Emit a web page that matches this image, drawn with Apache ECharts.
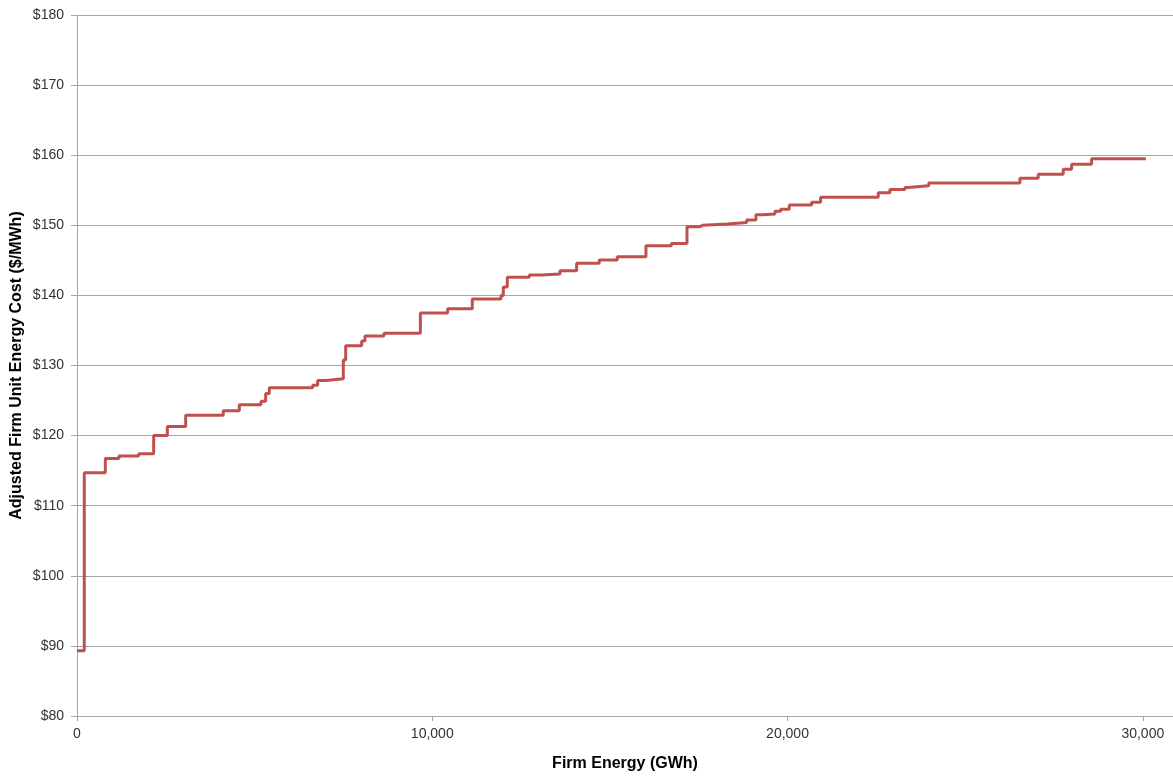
<!DOCTYPE html>
<html>
<head>
<meta charset="utf-8">
<script src="https://cdn.jsdelivr.net/npm/echarts@6/dist/echarts.min.js"></script>
<style>
html,body{margin:0;padding:0;background:#fff;}
#chart{width:1173px;height:777px;}
</style>
</head>
<body>
<div id="chart"></div>
<script>
// Start of each cost level (GWh) and the level's cost ($/MWh)
const stepEnergy = [0, 205, 797, 1182, 1736, 2158, 2543, 3059, 4118, 4568, 5179, 5310, 5413, 6633, 6774, 7008, 7496, 7563, 8013, 8106, 8641, 9665, 10433, 11126, 11934, 12000, 12112, 12731, 13080, 13594, 14064, 14700, 15207, 16015, 16730, 17170, 17535, 17611, 18304, 18850, 19111, 19317, 19646, 19806, 20048, 20678, 20931, 22553, 22882, 23304, 23397, 23975, 26541, 27056, 27760, 27996, 28559, 30087];
const stepCost = [89.3, 114.7, 116.75, 117.1, 117.4, 120.0, 121.3, 122.9, 123.55, 124.4, 124.9, 126.0, 126.84, 127.2, 127.85, 128.1, 130.8, 132.8, 133.5, 134.2, 134.6, 137.5, 138.1, 139.5, 140.0, 141.2, 142.6, 142.9, 143.05, 143.5, 144.6, 145.05, 145.5, 147.1, 147.4, 149.8, 150.0, 150.2, 150.4, 150.75, 151.5, 151.6, 152.0, 152.3, 152.9, 153.3, 154.0, 154.65, 155.1, 155.4, 155.65, 156.05, 156.7, 157.3, 158.0, 158.7, 159.5, 159.5];
const xTicks = [0, 10000, 20000, 30000];
const yTicks = [80, 90, 100, 110, 120, 130, 140, 150, 160, 170, 180];

const chart = echarts.init(document.getElementById('chart'), null, {renderer: 'canvas'});
const seriesData = stepEnergy.map((e, i) => [e, stepCost[i]]);
const axisGray = '#a6a6a6';
chart.setOption({
  animation: false,
  backgroundColor: '#ffffff',
  grid: {left: 77, top: 15, right: 0, bottom: 61, containLabel: false, outerBoundsMode: 'none'},
  xAxis: {
    type: 'value',
    min: xTicks[0],
    max: 30850,
    interval: 10000,
    name: 'Firm Energy (GWh)',
    nameLocation: 'middle',
    nameGap: 40,
    nameMoveOverlap: false,
    nameTextStyle: {fontFamily: 'Liberation Sans', fontSize: 16, fontWeight: 'bold', color: '#000'},
    axisLine: {show: true, lineStyle: {color: axisGray, width: 1}},
    axisTick: {show: true, length: 5, inside: false, lineStyle: {color: axisGray}},
    axisLabel: {
      fontFamily: 'Liberation Sans', fontSize: 14, color: '#333333', margin: 11,
      showMaxLabel: false,
      formatter: v => xTicks.includes(v) ? v.toLocaleString('en-US') : ''
    },
    splitLine: {show: false}
  },
  yAxis: {
    type: 'value',
    min: yTicks[0],
    max: yTicks[yTicks.length - 1],
    interval: 10,
    name: 'Adjusted Firm Unit Energy Cost ($/MWh)',
    nameLocation: 'middle',
    nameGap: 52,
    nameMoveOverlap: false,
    nameTextStyle: {fontFamily: 'Liberation Sans', fontSize: 16, fontWeight: 'bold', color: '#000'},
    axisLine: {show: true, lineStyle: {color: axisGray, width: 1}},
    axisTick: {show: true, length: 6, lineStyle: {color: axisGray}},
    axisLabel: {fontFamily: 'Liberation Sans', fontSize: 14, color: '#333333', margin: 13, formatter: v => '$' + v},
    splitLine: {show: true, lineStyle: {color: axisGray, width: 1}}
  },
  series: [{
    type: 'line',
    step: 'end',
    data: seriesData,
    showSymbol: false,
    lineStyle: {color: '#c0504d', width: 3},
    itemStyle: {color: '#c0504d'}
  }]
});
</script>
</body>
</html>
